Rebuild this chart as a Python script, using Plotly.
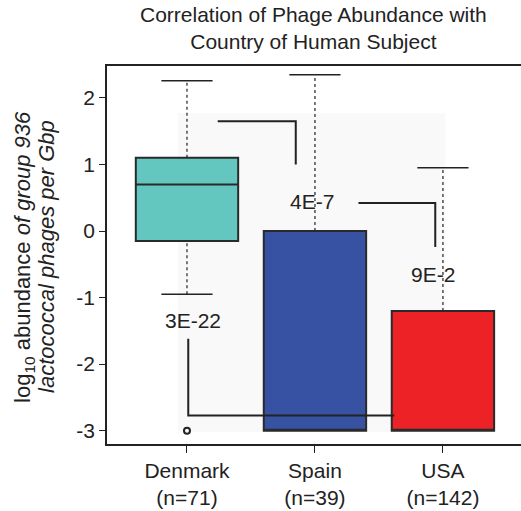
import plotly.graph_objects as go

# ---- data ----
countries = ["Denmark", "Spain", "USA"]
counts = [71, 39, 142]
positions = [1, 2, 3]
q1 = [-0.15, -3.0, -3.0]
median = [0.70, -3.0, -3.0]
q3 = [1.10, 0.0, -1.20]
whisker_low = [-0.95, -3.0, -3.0]
whisker_high = [2.26, 2.35, 0.95]
outlier_x = [1]
outlier_y = [-3.0]
colors = ["#63C6BF", "#3752A3", "#EC2227"]

pvals = ["4E-7", "9E-2", "3E-22"]
pval_x = [1.98, 2.92, 1.05]
pval_y = [0.45, -0.66, -1.35]

# bracket paths (data coords)
bracket_ds_x = [1.24, 1.85, 1.85]
bracket_ds_y = [1.65, 1.65, 1.0]
bracket_su_x = [2.34, 2.94, 2.94]
bracket_su_y = [0.42, 0.42, -0.24]
bracket_du_x = [1.01, 1.01, 2.62]
bracket_du_y = [-1.62, -2.77, -2.77]

title_text = "Correlation of Phage Abundance with<br>Country of Human Subject"
ytitle_lines = ["log<sub>10</sub> abundance <i>of group 936</i>",
                "<i>lactococcal phages per Gbp</i>"]

FONT = "Liberation Sans, Arial, Helvetica, sans-serif"
INK = "#222222"
box_w = 0.8
cap_w = 0.4

fig = go.Figure()

# faint background panel
fig.add_shape(type="rect", x0=0.93, x1=3.02, y0=-3.02, y1=1.77,
              fillcolor="#f9f9f9", line=dict(width=0), layer="below")

# Denmark-USA bracket (behind boxes)
fig.add_trace(go.Scatter(x=bracket_du_x, y=bracket_du_y, mode="lines",
                         line=dict(color=INK, width=2), hoverinfo="skip", showlegend=False))

# whiskers and caps
for i, p in enumerate(positions):
    fig.add_trace(go.Scatter(x=[p, p], y=[q3[i], whisker_high[i]], mode="lines",
                             line=dict(color=INK, width=1.2, dash="3px,3px"),
                             hoverinfo="skip", showlegend=False))
    if whisker_low[i] < q1[i]:
        fig.add_trace(go.Scatter(x=[p, p], y=[whisker_low[i], q1[i]], mode="lines",
                                 line=dict(color=INK, width=1.2, dash="3px,3px"),
                                 hoverinfo="skip", showlegend=False))
        fig.add_trace(go.Scatter(x=[p - cap_w / 2, p + cap_w / 2], y=[whisker_low[i]] * 2,
                                 mode="lines", line=dict(color=INK, width=1.5),
                                 hoverinfo="skip", showlegend=False))
    fig.add_trace(go.Scatter(x=[p - cap_w / 2, p + cap_w / 2], y=[whisker_high[i]] * 2,
                             mode="lines", line=dict(color=INK, width=1.5),
                             hoverinfo="skip", showlegend=False))

# boxes
for i, p in enumerate(positions):
    fig.add_trace(go.Box(x=[p], q1=[q1[i]], median=[median[i]], q3=[q3[i]],
                         lowerfence=[q1[i]], upperfence=[q3[i]],
                         width=box_w, fillcolor=colors[i],
                         line=dict(color="#2a2a2a", width=2),
                         whiskerwidth=0, boxpoints=False,
                         hoverinfo="skip", showlegend=False))

# outliers
fig.add_trace(go.Scatter(x=outlier_x, y=outlier_y, mode="markers",
                         marker=dict(symbol="circle-open", size=6, color=INK,
                                     line=dict(width=2, color=INK)),
                         hoverinfo="skip", showlegend=False))

# other brackets
fig.add_trace(go.Scatter(x=bracket_ds_x, y=bracket_ds_y, mode="lines",
                         line=dict(color=INK, width=2), hoverinfo="skip", showlegend=False))
fig.add_trace(go.Scatter(x=bracket_su_x, y=bracket_su_y, mode="lines",
                         line=dict(color=INK, width=2), hoverinfo="skip", showlegend=False))

for t, x, y in zip(pvals, pval_x, pval_y):
    fig.add_annotation(x=x, y=y, text=t, showarrow=False,
                       font=dict(family=FONT, size=21, color=INK))

# title
fig.add_annotation(xref="paper", yref="paper", x=0.4976, y=1.03,
                   xanchor="center", yanchor="bottom", text=title_text,
                   showarrow=False, font=dict(family=FONT, size=21, color=INK))

# y-axis title as two rotated lines
for txt, xpx in zip(ytitle_lines, [24, 47]):
    fig.add_annotation(xref="paper", yref="paper", x=(xpx - 107) / 414, y=0.495,
                       xanchor="center", yanchor="middle", textangle=-90,
                       text=txt, showarrow=False,
                       font=dict(family=FONT, size=22, color=INK))

ticktext = [f"{c}<br>(n={n})" for c, n in zip(countries, counts)]

fig.update_layout(
    width=521, height=511,
    margin=dict(l=107, r=0, t=66, b=67),
    paper_bgcolor="white", plot_bgcolor="white",
    font=dict(family=FONT, size=21, color=INK),
    boxmode="overlay",
    showlegend=False,
)
fig.update_xaxes(range=[0.375, 3.61], tickvals=positions, ticktext=ticktext,
                 showgrid=False, zeroline=False, showline=True, linecolor=INK,
                 linewidth=1.5, mirror=True, ticks="outside", ticklen=7,
                 tickcolor=INK, tickfont=dict(family=FONT, size=21, color=INK))
fig.update_yaxes(range=[-3.2, 2.48], tickvals=[-3, -2, -1, 0, 1, 2],
                 ticktext=["-3", "-2", "-1", "0", "1", "2"],
                 showgrid=False, zeroline=False, showline=True, linecolor=INK,
                 linewidth=1.5, ticks="outside", ticklen=6, tickcolor=INK,
                 tickfont=dict(family=FONT, size=21, color=INK))

fig.write_html("out.html")
